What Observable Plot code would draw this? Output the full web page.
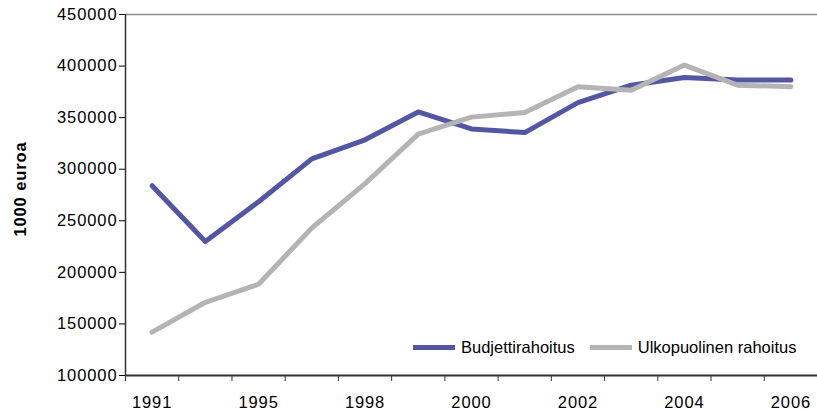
<!DOCTYPE html>
<html>
<head>
<meta charset="utf-8">
<script src="https://cdn.jsdelivr.net/npm/d3@7"></script>
<script src="https://cdn.jsdelivr.net/npm/@observablehq/plot@0.6"></script>
<style>
  html, body { margin: 0; padding: 0; background: #fff; }
  #wrap { position: relative; width: 817px; height: 413px; font-family: "Liberation Sans", Arial, sans-serif; }
  #legend { position: absolute; left: 413px; top: 337px; display: flex; align-items: center; font-size: 16.5px; line-height: 20px; color: #000; }
  #legend .sw { width: 42px; height: 5px; display: inline-block; }
</style>
</head>
<body>
<div id="wrap"><div id="chart"></div><div id="legend"></div></div>
<script>
const years = ["1991","1993","1995","1997","1998","1999","2000","2001","2002","2003","2004","2005","2006"];
const tickLabels = ["1991","1995","1998","2000","2002","2004","2006"];
const budjettirahoitus = [284000, 230000, 268500, 310000, 328500, 355500, 339000, 335500, 364500, 381500, 389000, 386500, 386500];
const ulkopuolinen = [142000, 171000, 188500, 243000, 286000, 334000, 350500, 355000, 380000, 376500, 401000, 381500, 380000];
const seriesNames = ["Budjettirahoitus", "Ulkopuolinen rahoitus"];
const colors = ["#5356a2", "#b4b4b4"];
const yTicks = [100000, 150000, 200000, 250000, 300000, 350000, 400000, 450000];

const rows = years.map((y, i) => ({i, year: y, b: budjettirahoitus[i], u: ulkopuolinen[i]}));
const boundaries = d3.range(years.length + 1).map(k => k - 0.5);
const labelIdx = tickLabels.map(t => years.indexOf(t));

const chart = Plot.plot({
  width: 817,
  height: 413,
  marginLeft: 125,
  marginRight: 0,
  marginTop: 14,
  marginBottom: 38,
  style: {fontFamily: "Liberation Sans, Arial, sans-serif", fontSize: "16.5px", color: "#000", letterSpacing: "0.9px", background: "#fff"},
  x: {domain: [-0.5, years.length - 0.5], ticks: labelIdx, tickFormat: i => years[i], tickSize: 0, tickPadding: 21, label: null},
  y: {domain: [yTicks[0], yTicks[yTicks.length - 1]], ticks: yTicks, tickFormat: d => String(d), tickSize: 6, tickPadding: 2, label: null},
  marks: [
    Plot.ruleY([yTicks[yTicks.length - 1]], {stroke: "#8c8c8c", strokeWidth: 1.5}),
    Plot.ruleX([-0.5], {stroke: "#333", strokeWidth: 1.5}),
    Plot.ruleY([yTicks[0]], {stroke: "#333", strokeWidth: 2.2}),
    Plot.ruleX(boundaries, {x: d => d, y1: yTicks[0], y2: yTicks[0], insetBottom: -6, stroke: "#333", strokeWidth: 1}),
    Plot.line(rows, {x: "i", y: "b", stroke: colors[0], strokeWidth: 5}),
    Plot.line(rows, {x: "i", y: "u", stroke: colors[1], strokeWidth: 5}),
    Plot.text(["1000 euroa"], {frameAnchor: "left", textAnchor: "middle", rotate: -90, dx: -105, dy: -6, fontWeight: "bold", fontSize: 16.5, fill: "#000", letterSpacing: "0.3px"})
  ]
});
document.getElementById("chart").appendChild(chart);

const legend = document.getElementById("legend");
seriesNames.forEach((name, k) => {
  const sw = document.createElement("span");
  sw.className = "sw";
  sw.style.background = colors[k];
  sw.style.marginRight = "6px";
  legend.appendChild(sw);
  const t = document.createElement("span");
  t.textContent = name;
  t.style.marginRight = k === 0 ? "15px" : "0";
  legend.appendChild(t);
});
</script>
</body>
</html>
